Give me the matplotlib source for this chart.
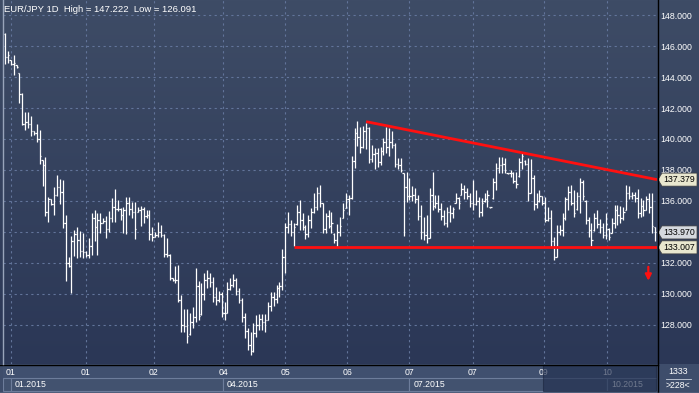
import numpy as np
import matplotlib
matplotlib.use("Agg")
import matplotlib.pyplot as plt
from matplotlib.lines import Line2D
from matplotlib.patches import Polygon, Rectangle
import matplotlib.transforms as mtransforms

plt.rcParams['font.family'] = ['Liberation Sans', 'DejaVu Sans']

# ---------------- data (EUR/JPY daily) ----------------
highs = [146.82, 145.68, 145.10, 145.42, 144.77, 144.24, 142.95, 141.76, 141.72, 141.50,
         140.51, 140.97, 140.58, 138.65, 138.82, 136.26, 136.13, 136.88, 137.68, 137.40,
         137.36, 135.10, 132.41, 133.76, 134.13, 134.34, 134.06, 133.91, 132.77, 133.59,
         135.20, 135.42, 135.20, 135.20, 134.88, 135.03, 135.36, 136.21, 136.77, 136.06,
         135.57, 135.63, 136.24, 136.24, 135.96, 135.96,
         135.63, 135.68, 135.63, 135.42, 135.42, 134.30, 134.02, 134.62, 134.45, 133.87,
         133.59, 132.58, 131.01, 131.81, 131.87, 129.94, 129.01, 129.01, 128.75, 129.14,
         131.66, 130.84, 130.69, 131.33, 131.55, 131.38, 131.12, 130.47, 130.19, 130.15,
         129.50, 130.80, 131.01, 131.29, 131.01, 130.37, 129.72, 128.75, 127.78, 127.57,
         128.11, 128.65, 128.71, 128.71, 128.71,
         129.50, 130.10, 130.15, 130.60, 130.80,
         132.88, 134.60, 135.31, 134.77, 134.56, 135.74, 136.06, 135.20, 134.45, 135.10,
         135.53, 136.49, 136.88, 137.03, 135.85, 135.20, 135.42, 135.31, 133.92, 134.49,
         134.99, 135.85, 136.49, 136.39, 138.90, 140.69, 141.16, 140.80, 140.84, 141.05,
         140.80, 139.61, 139.40, 139.40, 139.50, 140.04, 140.80, 140.69, 140.54, 139.72,
         138.75, 138.75, 137.78, 137.89, 137.46, 136.97, 136.82, 136.39, 135.74, 134.99,
         135.10, 136.82, 137.89, 136.39, 136.39, 135.85, 135.42, 135.63, 135.74, 135.63,
         136.49, 136.28, 137.18, 137.03, 136.82, 136.54, 137.35, 136.71, 136.28, 136.17,
         136.49, 136.71, 135.62, 137.46, 138.43, 138.86, 138.86, 138.75, 137.82, 138.00,
         137.89, 137.89, 138.75, 139.12, 138.64,
         138.75, 138.69, 137.68, 136.49, 136.71, 136.32, 136.24, 135.63, 135.42, 133.65,
         134.45, 134.45, 135.25, 136.28, 136.97, 137.03, 136.71, 136.60, 137.46, 137.35,
         136.06, 134.99, 134.56, 135.20, 135.42, 134.82, 134.60, 135.20, 134.24, 134.88,
         135.74, 135.74, 135.68, 135.63, 137.03, 136.97, 136.60, 136.60, 136.75, 136.17,
         136.06, 136.32, 136.49, 136.49, 134.34]

lows = [144.82, 144.88, 144.77, 144.13, 144.60, 142.34, 140.90, 140.58, 140.69, 140.22,
        140.26, 139.78, 138.37, 136.97, 135.05, 134.67, 135.74, 135.10, 136.34, 135.80,
        134.28, 130.84, 131.76, 130.08, 132.45, 132.30, 132.37, 132.34, 132.37, 132.30,
        132.52, 133.42, 132.52, 133.96, 134.60, 133.63, 134.02, 134.67, 134.67, 135.38,
        134.77, 133.91, 133.87, 135.10, 134.92, 133.52,
        135.27, 134.41, 134.56, 134.88, 133.48, 133.44, 133.66, 133.66, 133.70, 132.41,
        132.37, 130.90, 130.86, 130.73, 129.50, 127.57, 127.57, 126.86, 127.36, 127.78,
        128.22, 128.32, 128.64, 129.61, 130.37, 130.47, 129.50, 129.29, 129.50, 128.54,
        128.32, 128.75, 130.26, 130.43, 129.94, 129.40, 128.22, 127.14, 126.39, 126.09,
        126.28, 127.25, 127.68, 127.68, 127.57,
        128.30, 128.90, 129.20, 129.40, 129.80,
        130.26, 131.33, 133.92, 133.74, 133.10, 134.45, 134.13, 134.13, 133.53, 133.70,
        134.24, 135.20, 135.42, 135.63, 133.96, 133.96, 134.24, 133.96, 133.27, 133.05,
        133.74, 134.88, 135.53, 135.10, 136.11, 138.11, 139.55, 139.07, 139.40, 139.33,
        138.47, 138.54, 138.04, 138.21, 138.32, 138.97, 139.07, 138.90, 139.40, 138.21,
        138.04, 137.89, 133.74, 135.96, 136.06, 136.02, 135.89, 134.77, 133.53, 133.48,
        133.31, 133.59, 135.42, 135.53, 135.31, 134.77, 134.45, 134.34, 134.67, 134.88,
        135.85, 135.46, 136.39, 136.11, 136.11, 135.63, 135.42, 135.74, 134.99, 135.03,
        135.96, 135.63, 135.56, 136.11, 136.71, 137.78, 137.83, 137.78, 137.74, 137.57,
        137.14, 136.82, 137.57, 138.04, 138.32,
        136.02, 136.49, 135.42, 135.53, 135.96, 135.74, 134.67, 134.73, 133.05, 132.19,
        132.41, 133.81, 133.74, 134.77, 135.42, 135.74, 134.99, 135.42, 135.20, 136.06,
        134.52, 133.70, 133.10, 134.09, 134.24, 133.91, 133.59, 133.53, 133.48, 133.91,
        134.24, 134.45, 134.60, 134.77, 135.42, 136.11, 136.11, 135.96, 134.88, 134.95,
        135.03, 135.42, 135.20, 133.91, 133.44]

opens = [146.75, 145.30, 145.10, 144.82, 144.77, 144.24, 142.90, 141.00, 141.10, 141.00,
         140.50, 140.40, 140.00, 138.65, 138.30, 135.30, 136.10, 135.80, 136.40, 136.90,
         136.60, 134.60, 132.00, 131.80, 133.40, 133.90, 133.50, 132.80, 132.70, 132.50,
         133.10, 134.90, 134.30, 134.80, 134.60, 134.70, 134.20, 134.90, 135.60, 135.50,
         135.50, 135.10, 135.40, 135.90, 135.50, 135.30,
         135.30, 135.40, 135.50, 135.00, 135.10, 133.90, 133.70, 133.80, 134.00, 133.80,
         132.60, 132.50, 131.00, 130.90, 130.90, 129.60, 128.00, 127.90, 127.40, 128.20,
         128.50, 130.50, 128.70, 130.00, 130.90, 131.00, 130.80, 129.80, 129.60, 130.00,
         128.80, 128.80, 130.30, 130.60, 130.90, 130.20, 129.60, 128.50, 127.60, 126.70,
         126.30, 127.50, 128.00, 128.40, 128.20,
         128.30, 129.20, 129.80, 129.70, 130.40,
         130.50, 132.40, 134.30, 134.50, 134.00, 134.50, 135.30, 134.80, 134.30, 133.90,
         134.80, 135.30, 135.60, 136.50, 135.90, 134.20, 135.00, 134.40, 133.90, 133.50,
         134.00, 134.90, 135.55, 136.10, 136.20, 138.60, 140.40, 140.10, 139.50, 140.50,
         140.70, 138.70, 139.00, 139.10, 138.50, 139.20, 139.80, 139.50, 139.80, 139.60,
         138.40, 138.30, 137.78, 136.90, 136.30, 136.30, 136.40, 136.10, 135.00, 134.00,
         133.80, 133.60, 136.40, 135.70, 135.90, 135.50, 135.00, 134.60, 135.30, 135.20,
         135.85, 136.20, 136.40, 136.80, 136.60, 136.30, 135.90, 135.80, 136.00, 135.30,
         136.00, 136.10, 135.58, 136.20, 137.20, 138.10, 138.30, 138.40, 137.80, 137.80,
         137.80, 137.30, 137.60, 138.50, 138.60,
         138.40, 136.50, 137.50, 135.80, 136.00, 136.30, 135.90, 134.80, 134.90, 133.40,
         132.40, 134.00, 134.10, 134.90, 136.10, 136.60, 135.90, 135.50, 136.30, 137.20,
         136.00, 134.80, 134.10, 134.10, 134.90, 134.50, 134.30, 133.80, 134.20, 133.95,
         134.60, 135.40, 135.10, 134.90, 135.45, 136.50, 136.30, 136.40, 136.20, 135.20,
         135.70, 135.45, 136.10, 135.60, 134.30]

closes = [145.30, 145.40, 144.82, 144.90, 144.65, 142.90, 141.00, 141.10, 141.00, 140.50,
          140.40, 140.00, 138.90, 138.30, 135.30, 136.10, 135.80, 136.40, 136.90, 136.60,
          134.60, 132.00, 131.80, 133.40, 133.90, 133.50, 132.80, 132.70, 132.50, 133.10,
          134.90, 134.30, 134.80, 134.60, 134.70, 134.20, 134.90, 135.60, 135.50, 135.50,
          135.10, 135.40, 135.90, 135.50, 135.30, 134.20,
          135.40, 135.50, 135.00, 135.10, 133.90, 133.70, 133.80, 134.00, 133.80, 132.60,
          132.50, 131.00, 130.90, 130.90, 129.60, 128.00, 127.90, 127.30, 128.20, 128.50,
          130.50, 128.60, 130.00, 130.90, 131.00, 130.80, 129.80, 129.60, 130.00, 128.80,
          128.80, 130.30, 130.60, 130.90, 130.20, 129.60, 128.50, 127.60, 126.70, 126.30,
          127.50, 128.00, 128.40, 128.20, 128.30,
          129.20, 129.80, 129.70, 130.40, 130.50,
          132.40, 134.30, 134.50, 134.00, 134.30, 135.30, 134.80, 134.30, 133.90, 134.80,
          135.30, 135.60, 136.50, 135.90, 134.20, 135.00, 134.40, 134.60, 133.50, 134.00,
          134.40, 135.40, 136.10, 136.20, 138.60, 140.40, 140.10, 139.50, 140.50, 140.70,
          138.70, 139.00, 139.10, 138.50, 139.20, 139.80, 139.50, 139.80, 139.60, 138.40,
          138.30, 138.00, 136.90, 136.30, 136.30, 136.40, 136.10, 135.00, 134.00, 133.80,
          133.60, 136.40, 135.70, 135.90, 135.50, 135.00, 134.60, 135.30, 135.20, 135.50,
          136.20, 135.90, 136.80, 136.60, 136.30, 135.90, 135.80, 136.00, 135.30, 135.90,
          136.10, 136.40, 135.59, 137.20, 138.10, 138.30, 138.40, 138.00, 137.78, 137.80,
          137.30, 137.10, 138.50, 138.90, 138.40,
          136.50, 137.50, 135.80, 136.00, 136.30, 135.90, 134.80, 134.90, 133.40, 132.40,
          134.00, 134.10, 134.90, 136.10, 136.60, 135.90, 135.20, 136.30, 137.20, 136.30,
          134.80, 134.10, 133.50, 134.90, 134.50, 134.30, 133.80, 134.50, 133.70, 134.60,
          135.40, 135.10, 134.90, 135.30, 136.50, 136.30, 136.40, 136.20, 135.20, 135.70,
          135.40, 136.10, 135.60, 134.40, 133.97]

# time axis marks (bar index) and labels
grid_pos = [2, 28, 51.5, 75.5, 97, 118.5, 140, 162, 186.5, 208.5]
grid_labels = ['01', '01', '02', '04', '05', '06', '07', '07', '09', '10']
period_pos = [-0.7, 2, 75.5, 140, 208.5]
period_labels = ['', '01.2015', '04.2015', '07.2015', '10.2015']

# price scale
price_ticks = [128, 130, 132, 134, 136, 138, 140, 142, 144, 146, 148]
hidden_tick = 134  # covered by the last-price tag in the original

# trend lines: (start bar, start price, end price)
upper_start, upper_p0, upper_p1 = 125, 141.12, 137.379
lower_start, lower_p = 100, 133.007

last_close = 133.970
high_val, low_val = 147.222, 126.091

n = len(highs)
idx = np.arange(n)
xmin, xmax = -0.7, n - 0.3
ymin, ymax = 125.48, 148.97
FS = 6.3

W, H = 699, 393
fig = plt.figure(figsize=(W / 100, H / 100), dpi=100, facecolor='#3e4d6b')

# background gradient for chart area + right price panel
bg = fig.add_axes([0, 29 / H, 1, 364 / H])
top_c = np.array([62, 76, 102]) / 255
bot_c = np.array([43, 55, 86]) / 255
grad = np.linspace(0, 1, 256)[:, None, None]
img = top_c * (1 - grad) + bot_c * grad
bg.imshow(img, aspect='auto', extent=[0, 1, 0, 1])
bg.set_axis_off()

ax = fig.add_axes([3 / W, 29 / H, 654 / W, 364 / H])
ax.set_facecolor('none')
ax.set_xlim(xmin, xmax)
ax.set_ylim(ymin, ymax)
for s in ax.spines.values():
    s.set_visible(False)

ax.set_yticks(price_ticks)
ax.set_yticklabels(['' if v == hidden_tick else f'{v:.3f}' for v in price_ticks])
ax.yaxis.tick_right()
ax.tick_params(axis='y', length=0, pad=2.5, labelcolor='white', labelsize=FS)
ax.set_xticks(grid_pos)
ax.set_xticklabels([])
ax.tick_params(axis='x', length=0)
ax.grid(True, color='#62749a', linestyle=(0, (2, 3)), linewidth=0.8)
ax.set_axisbelow(True)

# OHLC bars
ax.vlines(idx, lows, highs, color='white', linewidth=0.9)
ax.hlines(opens, idx - 0.45, idx, color='white', linewidth=0.9)
ax.hlines(closes, idx, idx + 0.45, color='white', linewidth=0.9)

# trend lines
ax.plot([upper_start, xmax], [upper_p0, upper_p1], color='#ff1010', linewidth=2.0, solid_capstyle='butt')
ax.plot([lower_start, xmax], [lower_p, lower_p], color='#ff1010', linewidth=2.0, solid_capstyle='butt')

# small red arrow
ax.annotate('', xy=(n - 3.3, 130.85), xytext=(n - 3.3, 131.75),
            arrowprops=dict(arrowstyle='-|>', color='#ff1010', lw=1.6, mutation_scale=9,
                            shrinkA=0, shrinkB=0))

# price tags on the right scale
tr = mtransforms.blended_transform_factory(fig.transFigure, ax.transData)
hh = 6.5 * (ymax - ymin) / 364
for price, fc in [(upper_p1, '#e9e7cf'), (last_close, '#d5d9df'), (lower_p, '#e9e7cf')]:
    poly = Polygon([(658 / W, price), (662 / W, price + hh), (697 / W, price + hh),
                    (697 / W, price - hh), (662 / W, price - hh)],
                   closed=True, facecolor=fc, edgecolor='#404040', linewidth=0.5,
                   transform=tr, clip_on=False, zorder=5)
    ax.add_patch(poly)
    ax.text(663 / W, price, f'{price:.3f}', transform=tr, color='black', fontsize=FS,
            va='center', ha='left', zorder=6, clip_on=False)

# title line
fig.text(4 / W, 1 - 9 / H, f'EUR/JPY 1D  High = {high_val:.3f}  Low = {low_val:.3f}',
         color='white', fontsize=6.8, va='center', ha='left')

# ---------------- time axis panel ----------------
tax = fig.add_axes([3 / W, 0, 654 / W, 29 / H])
tax.set_xlim(xmin, xmax)
tax.set_ylim(0, 1)
tax.set_axis_off()
tax.add_patch(Rectangle((xmin, 0), xmax - xmin, 1, facecolor='#40506f', edgecolor='none', zorder=0))
for x, lab in zip(grid_pos, grid_labels):
    tax.text(x, 0.70, lab, color='white', fontsize=FS, ha='center', va='center')
ends = period_pos[1:] + [xmax]
for x0, x1, lab in zip(period_pos, ends, period_labels):
    tax.add_patch(Rectangle((x0, 0.07), x1 - x0, 0.45, facecolor='#42526f',
                            edgecolor='#6d7d9b', linewidth=0.8, zorder=1))
    tax.text(x0 + 1.3, 0.29, lab, color='white', fontsize=FS, ha='left', va='center', zorder=2)
# dark view overlay
tax.add_patch(Rectangle((186.2, 0.07), xmax - 186.2 - 0.4, 0.9, facecolor='#223050',
                        edgecolor='#1c2740', linewidth=0.8, alpha=0.65, zorder=3))

# right bottom cell
fig.text(678 / W, 1 - 372 / H, '1333', color='white', fontsize=FS, ha='center', va='center')
fig.text(678 / W, 1 - 386 / H, '>228<', color='white', fontsize=FS, ha='center', va='center')
fig.add_artist(Line2D([666 / W, 691 / W], [1 - 379 / H] * 2, color='#c8d0dc', lw=0.6))

# borders
fig.add_artist(Line2D([657.5 / W] * 2, [0, 1], color='black', lw=1.0))
fig.add_artist(Line2D([0, 657.5 / W], [1 - 364.5 / H] * 2, color='black', lw=1.0))
fig.add_artist(Line2D([2.5 / W] * 2, [29 / H, 1], color='#98a4ba', lw=1.0))
fig.add_artist(Line2D([0, 1], [0.5 / H] * 2, color='#8c98ae', lw=1.0))

fig.savefig('out.png', dpi=100, facecolor=fig.get_facecolor())
